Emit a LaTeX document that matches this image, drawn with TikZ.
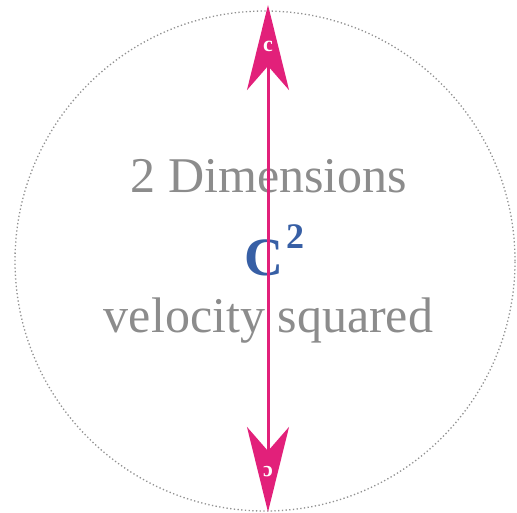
\documentclass[tikz,border=0pt]{standalone}
\usepackage{fontspec}
\setmainfont{Liberation Serif}
\usetikzlibrary{arrows.meta}
\definecolor{arrowpink}{RGB}{226,32,122}
\definecolor{cblue}{RGB}{55,95,165}
\definecolor{txtgray}{RGB}{140,140,140}
\definecolor{dotgray}{RGB}{145,145,145}
\tikzset{
  graytext/.style={text=txtgray, inner sep=0pt, anchor=base, font=\fontsize{50}{60}\selectfont},
  bigc/.style={text=cblue, inner sep=0pt, anchor=base west, font=\bfseries\fontsize{54}{60}\selectfont},
  ring/.style={circle, draw=dotgray, line width=1.3pt, dash pattern=on 1.3pt off 2.4pt, minimum size=500pt, inner sep=0pt},
  shaft/.style={draw=arrowpink, line width=3pt,
    {Stealth[length=85pt,width=42pt,inset=24pt]}-{Stealth[length=85pt,width=42pt,inset=24pt]}},
  tipletter/.style={text=white, inner sep=0pt, font=\bfseries\fontsize{22}{24}\selectfont}
}
\begin{document}
\begin{tikzpicture}[x=1pt,y=-1pt]
  \useasboundingbox[fill=white] (0,0) rectangle (517,512);
  \node[ring] (circ) at (265,261) {};
  \node[graytext] (dims) at (269,192) {2 Dimensions};
  \node[bigc] (csq) at (244,275) {C\kern3pt\raisebox{27pt}{\fontsize{36}{38}\selectfont 2}};
  \node[graytext] (vel) at (268.5,332) {velocity squared};
  \coordinate (top) at (268,5);
  \coordinate (bot) at (268,512);
  \draw[shaft] (bot) -- (top);
  \node[tipletter] (ctop) at (268,46) {c};
  \node[tipletter, rotate=180] (cbot) at (268,472) {c};
\end{tikzpicture}
\end{document}
